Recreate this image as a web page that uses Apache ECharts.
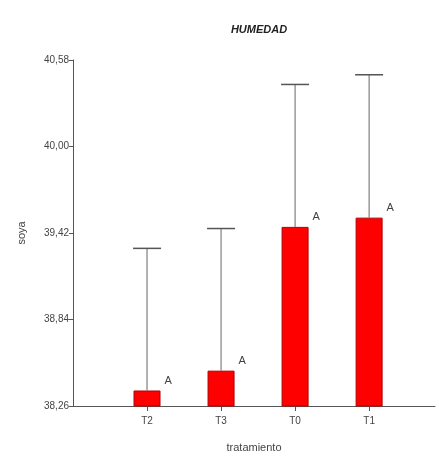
<!DOCTYPE html>
<html><head><meta charset="utf-8">
<script src="https://cdn.jsdelivr.net/npm/echarts@6/dist/echarts.min.js"></script>
<style>html,body{margin:0;padding:0;background:#fff}#c{width:439px;height:458px}</style>
</head><body><div id="c"></div>
<script>
var categories = ['T2', 'T3', 'T0', 'T1'];
var positions = [1, 2, 3, 4];
var means = [38.364, 38.497, 39.461, 39.523];
var upper = [39.317, 39.45, 40.416, 40.481];
var letters = ['A', 'A', 'A', 'A'];
var yTicks = [38.26, 38.84, 39.42, 40.00, 40.58];

var chart = echarts.init(document.getElementById('c'), null, {renderer: 'canvas'});
var font = 'Liberation Sans, Arial, sans-serif';
chart.setOption({
  animation: false,
  backgroundColor: '#fff',
  title: {
    text: 'HUMEDAD', left: 254, top: 19, textAlign: 'center',
    textStyle: {fontFamily: font, fontSize: 11, fontWeight: 'bold', fontStyle: 'italic', color: '#222'}
  },
  grid: {left: 73, right: 4, top: 60, bottom: 49, containLabel: false},
  xAxis: {
    type: 'value', min: 0, max: 4.89,
    name: 'tratamiento', nameLocation: 'middle', nameGap: 36,
    nameTextStyle: {fontFamily: font, fontSize: 11, color: '#444'},
    axisLine: {show: true, lineStyle: {color: '#555', width: 1}},
    axisTick: {show: true, length: 5, inside: false, lineStyle: {color: '#555'}, customValues: positions},
    axisLabel: {customValues: positions, fontFamily: font, fontSize: 10, color: '#444', margin: 10,
      formatter: function (v) { var i = positions.indexOf(Math.round(v)); return i >= 0 ? categories[i] : ''; }},
    splitLine: {show: false}
  },
  yAxis: {
    type: 'value', min: 38.26, max: 40.58,
    name: 'soya', nameLocation: 'middle', nameGap: 46, nameRotate: 90,
    nameTextStyle: {fontFamily: font, fontSize: 11, color: '#444'},
    axisLine: {show: true, lineStyle: {color: '#555', width: 1}},
    axisTick: {show: true, length: 4, customValues: yTicks, lineStyle: {color: '#555'}},
    axisLabel: {customValues: yTicks, fontFamily: font, fontSize: 10, color: '#444', margin: 4,
      formatter: function (v) { return v.toFixed(2).replace('.', ','); }},
    splitLine: {show: false}
  },
  series: [
    {
      type: 'bar', barWidth: 27,
      data: positions.map(function (p, i) { return [p, means[i]]; }),
      itemStyle: {color: '#ff0000', borderColor: '#b00000', borderWidth: 1},
      label: {show: true, position: [31, -15],
        formatter: function (p) { return letters[p.dataIndex]; },
        fontFamily: font, fontSize: 11, color: '#444'}
    },
    {
      type: 'custom',
      data: positions.map(function (p, i) { return [p, means[i], upper[i]]; }),
      renderItem: function (params, api) {
        var b = api.coord([api.value(0), api.value(1)]);
        var t = api.coord([api.value(0), api.value(2)]);
        var hw = 14;
        return {type: 'group', children: [
          {type: 'line', shape: {x1: b[0], y1: b[1], x2: t[0], y2: t[1]}, style: {stroke: '#666', lineWidth: 1}},
          {type: 'line', shape: {x1: t[0] - hw, y1: t[1], x2: t[0] + hw, y2: t[1]}, style: {stroke: '#555', lineWidth: 1.5}}
        ]};
      },
      z: 3
    }
  ]
});
</script></body></html>
